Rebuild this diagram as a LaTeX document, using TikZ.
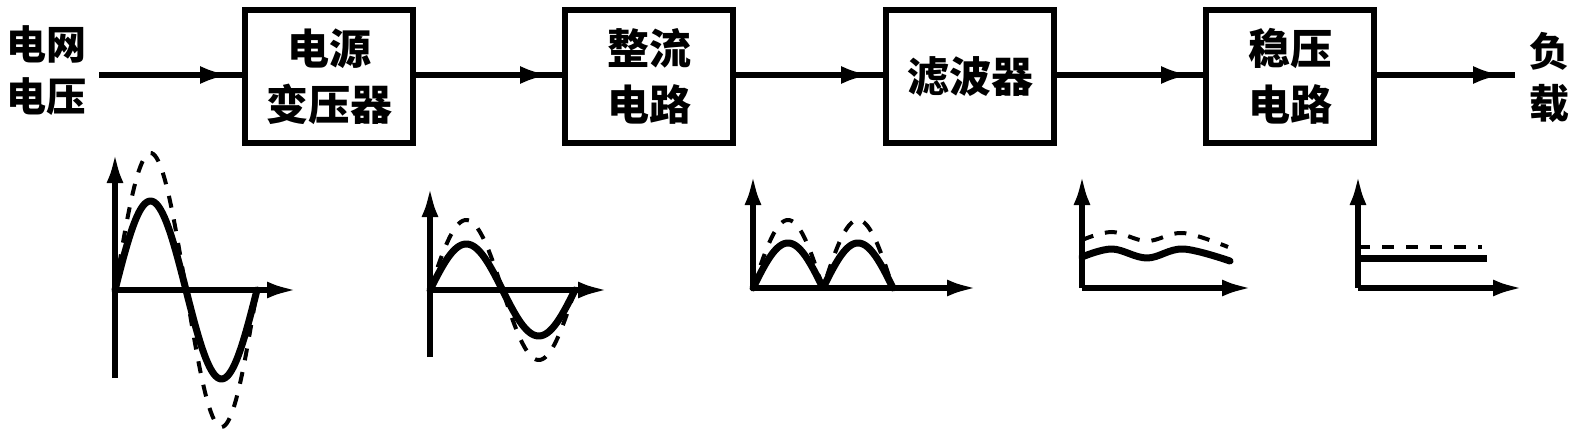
\documentclass[tikz,border=0pt]{standalone}
\usepackage{fontspec}
\newfontfamily\cjk{Noto Sans CJK SC}
\usetikzlibrary{arrows.meta,decorations.markings}
\begin{document}
\begin{tikzpicture}[x=1pt,y=-1pt,
  box/.style={draw, line width=6pt, minimum width=168pt, minimum height=132pt, inner sep=0pt, align=center, font=\cjk\bfseries\fontsize{42}{56}\selectfont},
  lbl/.style={inner sep=0pt, align=center, font=\cjk\bfseries\fontsize{40}{52}\selectfont},
  conn/.style={line width=5.5pt, postaction={decorate}, decoration={markings, mark=at position -12pt with {\arrow{Latex[length=30pt,width=18pt]}}}},
  axis/.style={line width=5.5pt, -{Latex[length=30pt,width=17pt]}},
  sol/.style={line width=7pt, line cap=round, line join=round},
  dsh/.style={line width=4pt, dash pattern=on 12pt off 12pt}]
\useasboundingbox (0,0) rectangle (1572,436);
% blocks
\node[lbl] (src) at (46,71) {电网\\电压};
\node[box] (b1) at (329,76.5) {电源\\变压器};
\node[box] (b2) at (649,76.5) {整流\\电路};
\node[box] (b3) at (970,76.5) {滤波器};
\node[box] (b4) at (1290,76.5) {稳压\\电路};
\node[lbl] (load) at (1549,77) {负\\载};
\coordinate (in) at (99,75);
\coordinate (out) at (1515,75);
\draw[conn] (in) -- (b1.west |- in);
\draw[conn] (b1.east |- in) -- (b2.west |- in);
\draw[conn] (b2.east |- in) -- (b3.west |- in);
\draw[conn] (b3.east |- in) -- (b4.west |- in);
\draw[conn] (b4.east |- in) -- (out);
% chart 1
\coordinate (o1) at (115,290);
\draw[axis] (115,378) -- (115,153);
\draw[axis] (o1) -- (297,290);
\draw[sol] plot[domain=0:142, samples=90] ({115+\x},{290-89*sin(\x/142*360)});
\draw[dsh] plot[domain=0:142, samples=90] ({115+\x},{290-137*sin(\x/142*360)});
% chart 2
\coordinate (o2) at (430,290);
\draw[axis] (430,357) -- (430,187);
\draw[axis] (o2) -- (608,290);
\draw[sol] plot[domain=0:145, samples=90] ({430+\x},{290-46*sin(\x/145*360)});
\draw[dsh] plot[domain=0:145, samples=90] ({430+\x},{290-70*sin(\x/145*360)});
% chart 3
\coordinate (o3) at (753,288);
\draw[axis] (o3) -- (753,175);
\draw[axis] (o3) -- (977,288);
\draw[sol] plot[domain=0:140, samples=120] ({753+\x},{288-45*abs(sin(\x/140*360))});
\draw[dsh] plot[domain=0:140, samples=120] ({753+\x},{288-68*abs(sin(\x/140*360))});
% chart 4
\coordinate (o4) at (1082,288);
\draw[axis] (o4) -- (1082,175);
\draw[axis] (o4) -- (1252,288);
\draw[sol] plot[smooth, tension=0.6] coordinates {(1082,257) (1112,249) (1147,258) (1183,249) (1230,261)};
\draw[dsh] plot[smooth, tension=0.6] coordinates {(1082,240) (1112,232) (1147,241) (1183,233) (1228,247)};
% chart 5
\coordinate (o5) at (1358,288);
\draw[axis] (o5) -- (1358,175);
\draw[axis] (o5) -- (1523,288);
\draw[sol, line cap=butt] (1358,258) -- (1487,258);
\draw[dsh] (1358,247) -- (1482,247);
\end{tikzpicture}
\end{document}
